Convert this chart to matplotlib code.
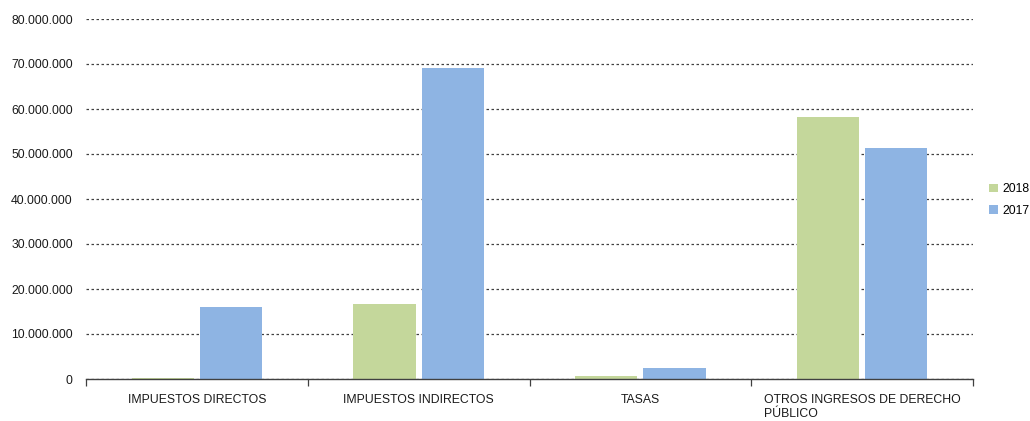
import matplotlib
matplotlib.use("Agg")
import matplotlib.pyplot as plt
from matplotlib.ticker import FuncFormatter, FixedLocator
import numpy as np

categories = ["IMPUESTOS DIRECTOS", "IMPUESTOS INDIRECTOS", "TASAS",
              "OTROS INGRESOS DE DERECHO\nPÚBLICO"]
series_names = ["2018", "2017"]
values_2018 = [200000, 16700000, 700000, 58200000]
values_2017 = [16000000, 69100000, 2400000, 51300000]
colors = ["#C4D79B", "#8EB4E3"]

plt.rcParams['font.family'] = ['Liberation Sans', 'DejaVu Sans']

fig = plt.figure(figsize=(10.30, 4.21), dpi=100)
ax = fig.add_axes([86/1030, 1-379/421, (973-86)/1030, (379-19)/421])

x = np.arange(len(categories))
w = 0.28
gap = 0.014
b1 = ax.bar(x - w/2 - gap, values_2018, width=w, color=colors[0], label=series_names[0], zorder=3)
b2 = ax.bar(x + w/2 + gap, values_2017, width=w, color=colors[1], label=series_names[1], zorder=3)

ax.set_xlim(-0.5, len(categories) - 0.5)
ax.set_ylim(0, 80000000)
ax.set_yticks(np.arange(0, 80000001, 10000000))
ax.yaxis.set_major_formatter(FuncFormatter(lambda v, p: f"{int(v):,}".replace(",", ".")))
ax.yaxis.grid(True, linestyle=(0, (2, 2)), color="#404040", linewidth=0.9, zorder=0)
ax.tick_params(axis='y', length=0, pad=9.5, labelsize=8.8, colors="#1a1a1a")

ax.set_xticks(x)
ax.set_xticklabels(categories, fontsize=8.8, multialignment='left', color="#1a1a1a")
ax.tick_params(axis='x', which='major', length=0, pad=11)
ax.xaxis.set_minor_locator(FixedLocator(np.arange(-0.5, len(categories), 1.0)))
ax.tick_params(axis='x', which='minor', length=5, width=0.9, color="#404040", direction='out')

for s in ["top", "right", "left"]:
    ax.spines[s].set_visible(False)
ax.spines["bottom"].set_color("#404040")
ax.spines["bottom"].set_linewidth(1.0)
ax.spines["bottom"].set_zorder(4)

fig.legend(handles=[b1, b2], labels=series_names, loc='center left',
           bbox_to_anchor=(978/1030, 1-200/421), frameon=False, fontsize=8.8,
           handlelength=0.7, handleheight=0.7, handletextpad=0.4, labelspacing=0.75)

fig.savefig("out.png", dpi=100)
